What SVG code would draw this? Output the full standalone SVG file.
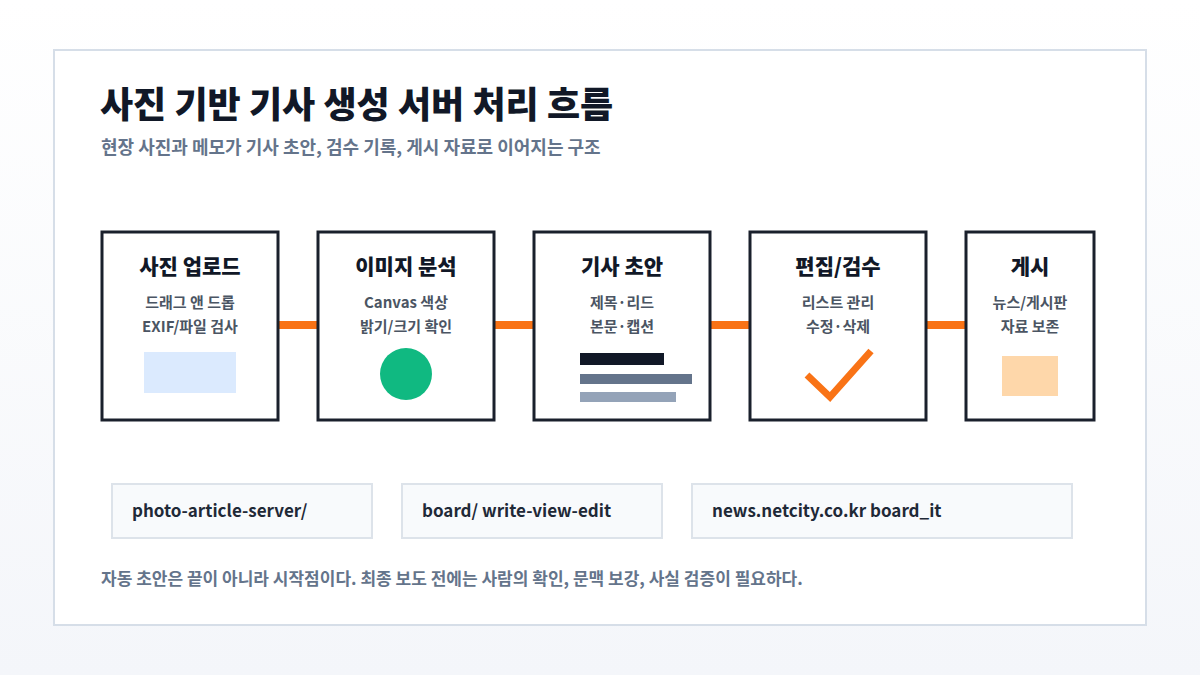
<svg xmlns="http://www.w3.org/2000/svg" width="1200" height="675" viewBox="0 0 1200 675">
<defs>
<linearGradient id="bg" x1="0" y1="0" x2="0" y2="1">
<stop offset="0" stop-color="#ffffff"/>
<stop offset="1" stop-color="#f4f6fa"/>
</linearGradient>
<style>
text{font-family:"Noto Sans CJK KR","Noto Sans",sans-serif;}
.node{fill:#ffffff;stroke:#1a202c;stroke-width:3;}
.nt{font-size:21px;font-weight:800;fill:#111827;text-anchor:middle;}
.ns{font-size:15px;font-weight:700;fill:#4b5563;text-anchor:middle;}
.conn{stroke:#f97316;stroke-width:8;}
.tag{fill:#f8fafc;stroke:#dde3ea;stroke-width:2;}
.tt{font-size:17px;font-weight:700;fill:#1f2937;}
</style>
</defs>
<rect width="1200" height="675" fill="url(#bg)"/>
<rect x="54" y="50" width="1092" height="575" fill="#ffffff" stroke="#d6dee8" stroke-width="2"/>
<text x="100" y="118" font-size="36" font-weight="900" fill="#111827">사진 기반 기사 생성 서버 처리 흐름</text>
<text x="101" y="154" font-size="18" font-weight="700" fill="#64748b">현장 사진과 메모가 기사 초안, 검수 기록, 게시 자료로 이어지는 구조</text>
<g id="connectors">
<line class="conn" x1="278" y1="325" x2="317" y2="325"/>
<line class="conn" x1="494" y1="325" x2="533" y2="325"/>
<line class="conn" x1="710" y1="325" x2="749" y2="325"/>
<line class="conn" x1="926" y1="325" x2="965" y2="325"/>
</g>
<g id="node-upload">
<rect class="node" x="102" y="232" width="176" height="188"/>
<text class="nt" x="190" y="274">사진 업로드</text>
<text class="ns" x="190" y="308">드래그 앤 드롭</text>
<text class="ns" x="190" y="332">EXIF/파일 검사</text>
<rect x="144" y="352" width="92" height="41" fill="#dbeafe"/>
</g>
<g id="node-analysis">
<rect class="node" x="318" y="232" width="176" height="188"/>
<text class="nt" x="406" y="274">이미지 분석</text>
<text class="ns" x="406" y="308">Canvas 색상</text>
<text class="ns" x="406" y="332">밝기/크기 확인</text>
<circle cx="406" cy="374" r="26" fill="#10b981"/>
</g>
<g id="node-draft">
<rect class="node" x="534" y="232" width="176" height="188"/>
<text class="nt" x="622" y="274">기사 초안</text>
<text class="ns" x="622" y="308">제목·리드</text>
<text class="ns" x="622" y="332">본문·캡션</text>
<rect x="580" y="353" width="84" height="12" fill="#111827"/>
<rect x="580" y="374" width="112" height="10" fill="#64748b"/>
<rect x="580" y="392" width="96" height="10" fill="#94a3b8"/>
</g>
<g id="node-edit">
<rect class="node" x="750" y="232" width="176" height="188"/>
<text class="nt" x="838" y="274">편집/검수</text>
<text class="ns" x="838" y="308">리스트 관리</text>
<text class="ns" x="838" y="332">수정·삭제</text>
<polyline points="807,375 830,397 871,351" fill="none" stroke="#f97316" stroke-width="7"/>
</g>
<g id="node-publish">
<rect class="node" x="966" y="232" width="128" height="188"/>
<text class="nt" x="1030" y="274">게시</text>
<text class="ns" x="1030" y="308">뉴스/게시판</text>
<text class="ns" x="1030" y="332">자료 보존</text>
<rect x="1002" y="356" width="56" height="40" fill="#fed7aa"/>
</g>
<g id="tag1">
<rect class="tag" x="112" y="484" width="260" height="54"/>
<text class="tt" x="132" y="517">photo-article-server/</text>
</g>
<g id="tag2">
<rect class="tag" x="402" y="484" width="260" height="54"/>
<text class="tt" x="422" y="517">board/ write-view-edit</text>
</g>
<g id="tag3">
<rect class="tag" x="692" y="484" width="380" height="54"/>
<text class="tt" x="712" y="517">news.netcity.co.kr board_it</text>
</g>
<text x="101" y="585" font-size="17" font-weight="700" fill="#64748b">자동 초안은 끝이 아니라 시작점이다. 최종 보도 전에는 사람의 확인, 문맥 보강, 사실 검증이 필요하다.</text>
</svg>
